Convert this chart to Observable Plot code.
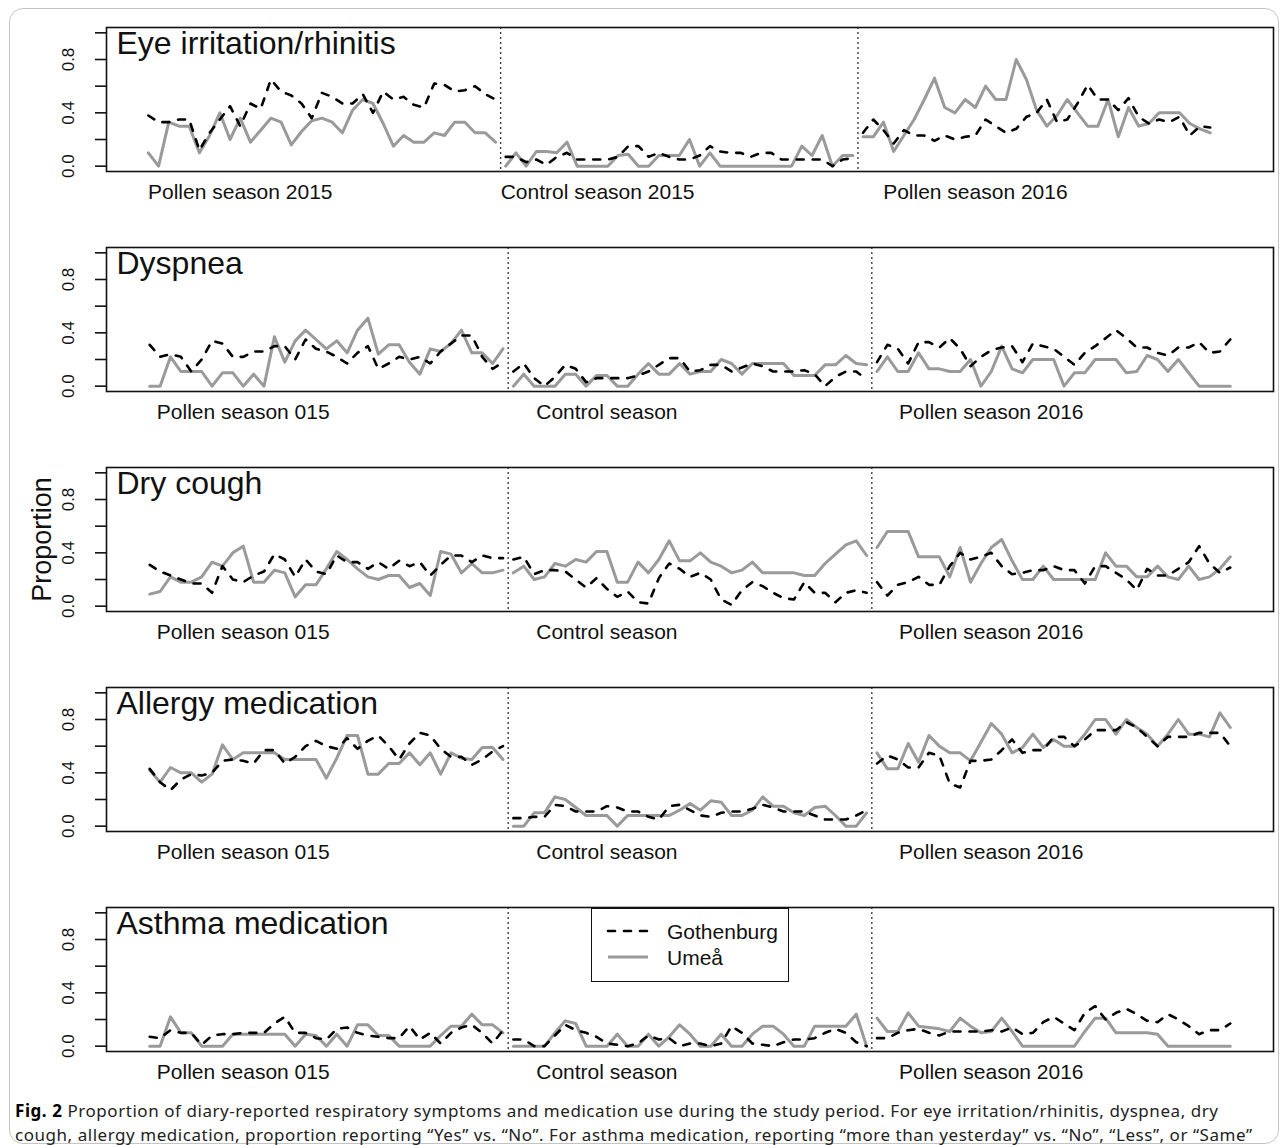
<!DOCTYPE html>
<html>
<head>
<meta charset="utf-8">
<script src="https://cdn.jsdelivr.net/npm/d3@7"></script>
<script src="https://cdn.jsdelivr.net/npm/@observablehq/plot@0.6"></script>
<style>
  html, body { margin: 0; padding: 0; background: #fff; }
  #fig { position: relative; width: 1284px; height: 1145px; overflow: hidden; background: #fff;
         font-family: "Liberation Sans", Arial, Helvetica, sans-serif; }
  #border { position: absolute; left: 9px; top: 8px; width: 1270px; height: 1136px; box-sizing: border-box;
            border: 1.5px solid #c4c4c4; border-radius: 14px; }
  .panel { position: absolute; left: 0; }
  #legend { position: absolute; left: 591px; top: 908px; width: 198px; height: 74px; box-sizing: border-box;
            border: 1.6px solid #111; background: #fff; }
  #caption { position: absolute; left: 0; top: 1090px; }
</style>
</head>
<body>
<div id="fig"><div id="border"></div></div>
<script>
// ---------- labels ----------
const panelTitles = ["Eye irritation/rhinitis", "Dyspnea", "Dry cough", "Allergy medication", "Asthma medication"];
const segLabelsFirst = ["Pollen season 2015", "Control season 2015", "Pollen season 2016"];
const segLabelsOther = ["Pollen season 015", "Control season", "Pollen season 2016"];
const cities = ["Gothenburg", "Umeå"];
const yTicks = [0, 0.2, 0.4, 0.6, 0.8, 1.0];
const yTickLabels = [0, 0.4, 0.8];

// ---------- data: proportion per day, three seasons per symptom ----------
const eyeGoth = [
  [0.38,0.33,0.33,0.35,0.35,0.12,0.25,0.35,0.45,0.30,0.47,0.43,0.65,0.56,0.53,0.47,0.36,0.55,0.52,0.47,0.47,0.54,0.40,0.56,0.50,0.52,0.46,0.44,0.62,0.61,0.56,0.57,0.60,0.54,0.50],
  [0.07,0.07,0.03,0.05,0.01,0.07,0.10,0.05,0.05,0.05,0.05,0.07,0.15,0.15,0.07,0.10,0.07,0.05,0.05,0.08,0.15,0.11,0.10,0.10,0.07,0.10,0.10,0.05,0.05,0.05,0.05,0.05,0.00,0.05,0.06],
  [0.25,0.35,0.27,0.17,0.27,0.23,0.23,0.19,0.23,0.20,0.22,0.23,0.35,0.30,0.25,0.28,0.37,0.40,0.50,0.33,0.35,0.47,0.61,0.50,0.50,0.42,0.51,0.37,0.32,0.35,0.33,0.37,0.23,0.30,0.29]
];
const eyeUmea = [
  [0.10,0.00,0.33,0.30,0.30,0.10,0.23,0.40,0.20,0.36,0.18,0.27,0.36,0.33,0.16,0.26,0.34,0.36,0.33,0.25,0.42,0.50,0.47,0.32,0.15,0.23,0.18,0.18,0.25,0.23,0.33,0.33,0.25,0.25,0.18],
  [0.00,0.10,0.00,0.11,0.11,0.10,0.18,0.00,0.00,0.00,0.00,0.08,0.09,0.00,0.00,0.08,0.08,0.08,0.20,0.00,0.10,0.00,0.00,0.00,0.00,0.00,0.00,0.00,0.00,0.15,0.08,0.23,0.00,0.08,0.08],
  [0.22,0.22,0.33,0.11,0.23,0.35,0.50,0.66,0.44,0.40,0.50,0.44,0.60,0.50,0.50,0.80,0.65,0.42,0.30,0.38,0.50,0.40,0.30,0.30,0.50,0.22,0.44,0.30,0.32,0.40,0.40,0.40,0.32,0.28,0.25]
];
const dysGoth = [
  [0.31,0.22,0.24,0.22,0.11,0.20,0.34,0.32,0.22,0.22,0.26,0.26,0.30,0.30,0.20,0.35,0.28,0.26,0.22,0.17,0.25,0.30,0.13,0.17,0.22,0.20,0.22,0.17,0.26,0.32,0.38,0.38,0.22,0.13,0.18],
  [0.11,0.17,0.06,0.00,0.07,0.16,0.13,0.03,0.06,0.06,0.06,0.06,0.08,0.11,0.16,0.21,0.21,0.11,0.12,0.16,0.16,0.11,0.14,0.17,0.15,0.11,0.11,0.11,0.12,0.09,0.00,0.07,0.11,0.11,0.05],
  [0.18,0.31,0.28,0.17,0.33,0.33,0.29,0.36,0.28,0.15,0.22,0.27,0.29,0.30,0.18,0.32,0.30,0.28,0.22,0.16,0.25,0.30,0.36,0.42,0.36,0.29,0.29,0.25,0.23,0.29,0.29,0.33,0.25,0.26,0.35]
];
const dysUmea = [
  [0.00,0.00,0.22,0.11,0.11,0.11,0.00,0.10,0.10,0.00,0.09,0.00,0.37,0.18,0.34,0.42,0.35,0.28,0.34,0.25,0.42,0.51,0.24,0.31,0.31,0.18,0.09,0.28,0.26,0.32,0.42,0.25,0.25,0.17,0.28],
  [0.00,0.09,0.00,0.00,0.00,0.09,0.09,0.00,0.08,0.08,0.00,0.00,0.09,0.17,0.09,0.09,0.17,0.09,0.11,0.11,0.20,0.17,0.09,0.17,0.17,0.17,0.17,0.08,0.08,0.08,0.16,0.16,0.23,0.17,0.16],
  [0.11,0.22,0.11,0.11,0.25,0.13,0.13,0.11,0.11,0.20,0.00,0.11,0.30,0.13,0.10,0.20,0.20,0.20,0.00,0.10,0.10,0.20,0.20,0.20,0.10,0.11,0.23,0.20,0.11,0.20,0.10,0.00,0.00,0.00,0.00]
];
const dryGoth = [
  [0.31,0.26,0.23,0.20,0.17,0.17,0.10,0.30,0.20,0.18,0.23,0.26,0.39,0.35,0.22,0.35,0.26,0.24,0.38,0.33,0.33,0.28,0.33,0.28,0.34,0.30,0.33,0.23,0.31,0.38,0.38,0.33,0.38,0.36,0.36],
  [0.35,0.37,0.24,0.27,0.27,0.26,0.20,0.14,0.21,0.13,0.07,0.11,0.03,0.02,0.21,0.32,0.28,0.22,0.25,0.20,0.05,0.01,0.12,0.18,0.15,0.10,0.06,0.05,0.18,0.10,0.10,0.03,0.10,0.12,0.10],
  [0.18,0.08,0.16,0.18,0.22,0.16,0.16,0.30,0.40,0.35,0.37,0.40,0.30,0.24,0.25,0.27,0.27,0.30,0.27,0.27,0.17,0.30,0.30,0.25,0.20,0.12,0.28,0.23,0.23,0.28,0.33,0.45,0.32,0.25,0.29]
];
const dryUmea = [
  [0.09,0.11,0.22,0.18,0.18,0.22,0.33,0.30,0.40,0.45,0.18,0.18,0.27,0.25,0.07,0.16,0.16,0.28,0.41,0.35,0.28,0.22,0.20,0.23,0.23,0.14,0.17,0.08,0.41,0.39,0.25,0.32,0.25,0.25,0.27],
  [0.25,0.30,0.20,0.22,0.32,0.30,0.35,0.33,0.41,0.41,0.18,0.18,0.33,0.25,0.35,0.49,0.34,0.34,0.40,0.33,0.30,0.25,0.27,0.33,0.25,0.25,0.25,0.25,0.23,0.23,0.32,0.39,0.46,0.49,0.38],
  [0.44,0.56,0.56,0.56,0.37,0.37,0.37,0.22,0.44,0.18,0.32,0.44,0.50,0.34,0.20,0.20,0.30,0.20,0.20,0.20,0.20,0.20,0.40,0.30,0.30,0.22,0.22,0.30,0.22,0.20,0.30,0.20,0.22,0.28,0.37]
];
const allGoth = [
  [0.43,0.33,0.27,0.35,0.39,0.38,0.40,0.49,0.50,0.49,0.47,0.57,0.57,0.47,0.52,0.60,0.64,0.60,0.58,0.66,0.58,0.64,0.68,0.60,0.50,0.62,0.70,0.68,0.58,0.52,0.52,0.46,0.50,0.56,0.60],
  [0.06,0.06,0.07,0.07,0.16,0.15,0.11,0.11,0.11,0.15,0.14,0.11,0.11,0.07,0.05,0.15,0.16,0.12,0.08,0.07,0.10,0.11,0.11,0.13,0.16,0.14,0.11,0.11,0.11,0.08,0.05,0.05,0.05,0.08,0.12],
  [0.47,0.53,0.50,0.44,0.44,0.55,0.53,0.32,0.29,0.49,0.49,0.50,0.57,0.65,0.55,0.57,0.57,0.67,0.67,0.60,0.65,0.72,0.72,0.72,0.78,0.74,0.67,0.60,0.67,0.67,0.67,0.70,0.70,0.70,0.60]
];
const allUmea = [
  [0.42,0.33,0.44,0.40,0.40,0.33,0.39,0.61,0.50,0.55,0.55,0.55,0.55,0.50,0.50,0.50,0.50,0.36,0.51,0.68,0.68,0.39,0.39,0.47,0.47,0.55,0.46,0.55,0.39,0.55,0.51,0.50,0.59,0.59,0.50],
  [0.00,0.00,0.10,0.10,0.22,0.20,0.14,0.08,0.08,0.08,0.00,0.08,0.08,0.08,0.08,0.08,0.12,0.17,0.12,0.19,0.18,0.08,0.08,0.12,0.22,0.15,0.15,0.10,0.08,0.14,0.15,0.08,0.00,0.00,0.10],
  [0.55,0.43,0.43,0.62,0.48,0.68,0.60,0.55,0.55,0.49,0.63,0.77,0.69,0.55,0.59,0.69,0.59,0.65,0.60,0.60,0.69,0.80,0.80,0.69,0.80,0.74,0.69,0.60,0.69,0.80,0.69,0.69,0.67,0.85,0.74]
];
const astGoth = [
  [0.07,0.06,0.12,0.10,0.10,0.01,0.08,0.09,0.09,0.10,0.10,0.10,0.17,0.22,0.10,0.10,0.06,0.05,0.13,0.14,0.10,0.08,0.07,0.06,0.06,0.15,0.05,0.10,0.02,0.10,0.14,0.16,0.10,0.02,0.12],
  [0.05,0.05,0.00,0.00,0.08,0.16,0.12,0.10,0.07,0.02,0.01,0.00,0.02,0.08,0.05,0.06,0.00,0.02,0.02,0.00,0.02,0.15,0.10,0.02,0.01,0.00,0.03,0.05,0.05,0.06,0.10,0.13,0.10,0.03,0.00],
  [0.06,0.06,0.10,0.12,0.13,0.10,0.08,0.11,0.11,0.11,0.11,0.12,0.11,0.14,0.09,0.10,0.18,0.22,0.17,0.12,0.25,0.30,0.20,0.25,0.28,0.24,0.19,0.18,0.24,0.20,0.15,0.09,0.12,0.12,0.17]
];
const astUmea = [
  [0.00,0.00,0.22,0.10,0.10,0.00,0.00,0.00,0.09,0.09,0.09,0.09,0.09,0.09,0.00,0.09,0.08,0.00,0.09,0.00,0.16,0.16,0.08,0.08,0.00,0.00,0.00,0.00,0.08,0.15,0.15,0.24,0.16,0.16,0.10],
  [0.00,0.00,0.00,0.00,0.10,0.19,0.17,0.00,0.00,0.00,0.09,0.00,0.00,0.09,0.00,0.07,0.16,0.09,0.00,0.00,0.09,0.00,0.00,0.09,0.15,0.15,0.09,0.00,0.00,0.15,0.15,0.15,0.15,0.24,0.00],
  [0.21,0.11,0.11,0.25,0.15,0.14,0.13,0.11,0.21,0.15,0.10,0.11,0.21,0.11,0.00,0.00,0.00,0.00,0.00,0.00,0.11,0.21,0.21,0.10,0.10,0.10,0.10,0.09,0.00,0.00,0.00,0.00,0.00,0.00,0.00]
];

// ---------- build ----------
const panelData = [
  [eyeGoth, eyeUmea], [dysGoth, dysUmea], [dryGoth, dryUmea], [allGoth, allUmea], [astGoth, astUmea]
];
const FONT = "Liberation Sans, Arial, Helvetica, sans-serif";
const fig = document.getElementById("fig");

function rowsOf(city, segs) {
  const out = [];
  segs.forEach((vals, s) => {
    const start = s * vals.length;
    vals.forEach((v, i) => out.push({city, seg: s, day: start + i, value: v}));
  });
  return out;
}

panelData.forEach(([g, u], k) => {
  const goth = rowsOf(cities[0], g);
  const umea = rowsOf(cities[1], u);
  const segLen = g[0].length;
  const dividers = [segLen - 0.5, 2 * segLen - 0.5];
  const labels = k === 0 ? segLabelsFirst : segLabelsOther;
  const labelCenters = [9, 44, 81];
  const marks = [
    Plot.axisY({ticks: yTicks, tickSize: 11, tickFormat: () => "", label: null, stroke: "#111", strokeWidth: 1.6}),
    Plot.text(yTickLabels, {y: d => d, text: d => d.toFixed(1), frameAnchor: "left", dx: -38, rotate: -90,
      textAnchor: "middle", lineAnchor: "middle", fontSize: 17, fill: "#111"}),
    Plot.ruleX(dividers, {stroke: "#333", strokeWidth: 1.3, strokeDasharray: "2,3"}),
    Plot.lineY(umea, {x: "day", y: "value", z: "seg", stroke: "#9a9a9a", strokeWidth: 3}),
    Plot.lineY(goth, {x: "day", y: "value", z: "seg", stroke: "#000", strokeWidth: 2.6, strokeDasharray: "7,9"}),
    Plot.frame({stroke: "#111", strokeWidth: 1.6}),
    Plot.text([panelTitles[k]], {frameAnchor: "top-left", dx: 10, dy: 4, lineAnchor: "top", textAnchor: "start",
      fontSize: 32, fill: "#111"}),
    Plot.text(labels, {x: (d, i) => labelCenters[i], frameAnchor: "bottom", dy: 21, textAnchor: "middle",
      lineAnchor: "middle", fontSize: 21, fill: "#111"})
  ];
  if (k === 2) {
    marks.push(Plot.text(["Proportion"], {frameAnchor: "left", dx: -64, rotate: -90, textAnchor: "middle",
      lineAnchor: "middle", fontSize: 27, fill: "#111"}));
  }
  const svg = Plot.plot({
    width: 1284, height: 220,
    marginLeft: 106, marginRight: 11, marginTop: 10, marginBottom: 66,
    x: {domain: k === 0 ? [-4.1, 110.2] : [-4.16, 108.16], axis: null},
    y: {domain: [-0.04, 1.04]},
    style: {fontFamily: FONT, background: "transparent", overflow: "visible"},
    marks
  });
  const wrap = document.createElement("div");
  wrap.className = "panel";
  wrap.style.top = (17 + 220 * k) + "px";
  wrap.appendChild(svg);
  fig.appendChild(wrap);
});

// ---------- legend ----------
const legend = document.createElement("div");
legend.id = "legend";
legend.innerHTML = `<svg width="196" height="72" style="font-family:${FONT}">
  <line x1="16" x2="56" y1="22" y2="22" stroke="#000" stroke-width="2.6" stroke-dasharray="7,9" stroke-linecap="round"/>
  <text x="75" y="30" font-size="21" fill="#111">${cities[0]}</text>
  <line x1="16" x2="56" y1="48" y2="48" stroke="#9a9a9a" stroke-width="3"/>
  <text x="75" y="56" font-size="21" fill="#111">${cities[1]}</text>
</svg>`;
fig.appendChild(legend);

// ---------- caption ----------
const cap = document.createElementNS("http://www.w3.org/2000/svg", "svg");
cap.setAttribute("id", "caption");
cap.setAttribute("width", "1284");
cap.setAttribute("height", "56");
cap.innerHTML = `
  <text x="15" y="27" font-family="Noto Sans, Open Sans, sans-serif" font-size="17" fill="#222" textLength="1203" lengthAdjust="spacing"><tspan font-weight="bold" fill="#000">Fig. 2</tspan>  Proportion of diary-reported respiratory symptoms and medication use during the study period. For eye irritation/rhinitis, dyspnea, dry</text>
  <text x="15" y="51" font-family="Noto Sans, Open Sans, sans-serif" font-size="17" fill="#222" textLength="1237" lengthAdjust="spacing">cough, allergy medication, proportion reporting “Yes” vs. “No”. For asthma medication, reporting “more than yesterday” vs. “No”, “Less”, or “Same”</text>`;
fig.appendChild(cap);
</script>
</body>
</html>
